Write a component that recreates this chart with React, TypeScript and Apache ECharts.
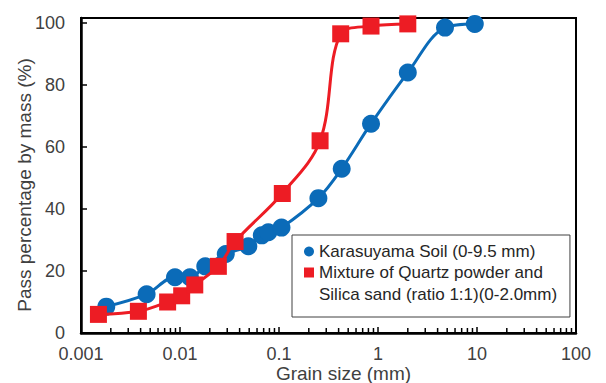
import React, { useEffect, useRef } from "react";
import * as echarts from "echarts";

// Karasuyama Soil (0-9.5 mm)
const soilSize = [0.0018, 0.0046, 0.0089, 0.0126, 0.018, 0.029, 0.049, 0.067, 0.078, 0.106, 0.25, 0.43, 0.85, 2.0, 4.75, 9.5];
const soilPass = [8.5, 12.5, 18, 18, 21.5, 25.5, 28, 31.5, 32.5, 34, 43.5, 53, 67.5, 84, 98.5, 99.7];

// Mixture of Quartz powder and Silica sand (ratio 1:1)(0-2.0mm)
const mixSize = [0.0015, 0.0038, 0.0075, 0.0104, 0.0141, 0.0244, 0.036, 0.108, 0.26, 0.42, 0.85, 2.0];
const mixPass = [6, 7, 10, 12, 15.5, 21.5, 29.5, 45, 62, 96.5, 99, 99.7];

const soilName = "Karasuyama Soil (0-9.5 mm)";
const mixName = "Mixture of Quartz powder and";
const mixName2 = "Silica sand (ratio 1:1)(0-2.0mm)";

const xTicks = [0.001, 0.01, 0.1, 1, 10, 100];
const yTicks = [0, 20, 40, 60, 80, 100];
const minorMultipliers = [2, 3, 4, 5, 6, 7, 8, 9];

const FONT = "'Liberation Sans', Arial, sans-serif";
const TEXT = "#404040";
const BLUE = "#0B6BB8";
const RED = "#ED1C24";

export default function App() {
  const ref = useRef<HTMLDivElement>(null);
  useEffect(() => {
    if (!ref.current) return;
    const chart = echarts.init(ref.current, null, { renderer: "svg" });
    const minorData: number[][] = [];
    for (let i = 0; i < xTicks.length - 1; i++) {
      for (const m of minorMultipliers) minorData.push([xTicks[i] * m, 0]);
    }
    const fmt = (v: number) => String(parseFloat(Number(v).toPrecision(6)));
    chart.setOption({
      animation: false,
      textStyle: { fontFamily: FONT },
      grid: {
        left: 81,
        right: 30,
        top: 18,
        bottom: 50,
        show: true,
        borderColor: "#000",
        borderWidth: 2,
        containLabel: false,
        outerBoundsMode: "none",
      },
      legend: {
        orient: "vertical",
        left: 292,
        top: 235,
        padding: [6, 27, 34, 12],
        itemGap: 0,
        itemWidth: 10,
        itemHeight: 10,
        borderColor: "#404040",
        borderWidth: 1,
        backgroundColor: "#fff",
        textStyle: { fontSize: 17, lineHeight: 21, color: "#262626", fontFamily: FONT },
        data: [
          { name: soilName, icon: "circle", itemStyle: { color: BLUE } },
          { name: mixName, icon: "rect", itemStyle: { color: RED } },
        ],
        selectedMode: false,
      },
      graphic: [
        {
          type: "text",
          left: 319,
          top: 284,
          z: 100,
          style: {
            text: mixName2,
            fontSize: 17,
            lineHeight: 21,
            fill: "#262626",
            fontFamily: FONT,
          },
        },
      ],
      xAxis: {
        type: "log",
        logBase: 10,
        min: 0.001,
        max: 100,
        name: "Grain size (mm)",
        nameLocation: "middle",
        nameGap: 31,
        nameMoveOverlap: false,
        nameTextStyle: { fontSize: 19, lineHeight: 19, color: TEXT, fontFamily: FONT, padding: [0, 0, 0, 30] },
        axisLine: { show: true, lineStyle: { color: "#000", width: 2.5 } },
        axisTick: { show: true, inside: true, length: 6, lineStyle: { color: "#000", width: 1.5 } },
        axisLabel: { fontSize: 18, lineHeight: 16, color: TEXT, margin: 13, formatter: fmt, fontFamily: FONT },
        splitLine: { show: false },
        minorTick: { show: false },
      },
      yAxis: {
        type: "value",
        min: 0,
        max: 101.6,
        interval: 20,
        name: "Pass percentage by mass (%)",
        nameLocation: "middle",
        nameGap: 47,
        nameMoveOverlap: false,
        nameTextStyle: { fontSize: 19, color: TEXT, fontFamily: FONT, padding: [0, 19, 0, 0] },
        axisLine: { show: true, lineStyle: { color: "#000", width: 2.5 } },
        axisTick: { show: true, inside: true, length: 6, lineStyle: { color: "#000", width: 1.5 } },
        axisLabel: {
          fontSize: 18,
          color: TEXT,
          margin: 16,
          fontFamily: FONT,
          formatter: (v: number) => (yTicks.includes(Math.round(v * 1000) / 1000) ? String(v) : ""),
        },
        splitLine: { show: false },
      },
      series: [
        {
          type: "custom",
          name: "minorTicks",
          silent: true,
          z: 1,
          data: minorData,
          encode: { x: 0, y: 1 },
          renderItem: (_params: any, api: any) => {
            const p = api.coord([api.value(0), 0]);
            return {
              type: "line",
              shape: { x1: p[0], y1: p[1], x2: p[0], y2: p[1] - 5 },
              style: { stroke: "#000", lineWidth: 1.5 },
            };
          },
        },
        {
          type: "line",
          name: soilName,
          data: soilSize.map((x, i) => [x, soilPass[i]]),
          smooth: 0.35,
          symbol: "circle",
          symbolSize: 18,
          lineStyle: { color: BLUE, width: 3 },
          itemStyle: { color: BLUE },
          z: 3,
        },
        {
          type: "line",
          name: mixName,
          data: mixSize.map((x, i) => [x, mixPass[i]]),
          smooth: 0.35,
          symbol: "rect",
          symbolSize: 17,
          lineStyle: { color: RED, width: 3 },
          itemStyle: { color: RED },
          z: 4,
        },
      ],
    });
    return () => chart.dispose();
  }, []);
  return (
    <div
      ref={ref}
      style={{ position: "fixed", left: 0, top: 0, width: 606, height: 383, background: "#fff" }}
    />
  );
}
